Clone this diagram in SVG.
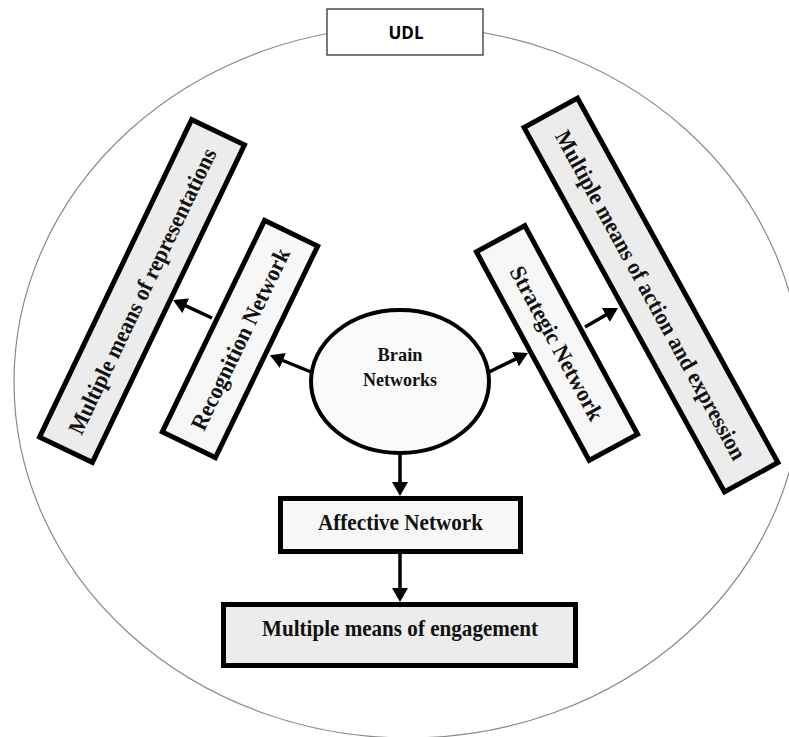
<svg xmlns="http://www.w3.org/2000/svg" width="789" height="737" viewBox="0 0 789 737">
  <defs>
    <marker id="arrow" markerUnits="userSpaceOnUse" markerWidth="14" markerHeight="16" refX="4" refY="8" orient="auto">
      <path d="M0,0 L14,8 L0,16 z" fill="#000"/>
    </marker>
    <style>
      .frame { fill: none; stroke: #8a8a8a; stroke-width: 1.2; }
      .title-box { fill: #fff; stroke: #333; stroke-width: 1.3; }
      .title { font-family: "Open Sans", "Liberation Sans", sans-serif; font-weight: bold; font-size: 17px; fill: #000; text-anchor: middle; }
      .box { stroke: #000; stroke-width: 5; stroke-linejoin: miter; }
      .light { fill: #f7f7f7; }
      .mid { fill: #ececec; }
      .lbl { font-family: "Liberation Serif", "Times New Roman", serif; font-weight: bold; font-size: 23px; fill: #111; text-anchor: middle; }
      .lbl-h { font-family: "Liberation Serif", "Times New Roman", serif; font-weight: bold; font-size: 22.5px; fill: #111; text-anchor: middle; }
      .lbl-c { font-family: "Liberation Serif", "Times New Roman", serif; font-weight: bold; font-size: 19.5px; fill: #111; text-anchor: middle; }
      .conn { stroke: #000; stroke-width: 3.5; fill: none; marker-end: url(#arrow); }
    </style>
  </defs>

  <rect width="789" height="737" fill="#fff"/>

  <!-- outer UDL boundary -->
  <ellipse class="frame" cx="408" cy="382" rx="394" ry="356"/>

  <g id="udl">
    <rect class="title-box" x="327" y="9" width="156" height="46"/>
    <text class="title" x="406" y="39">UDL</text>
  </g>

  <g id="representations" transform="translate(142,291) rotate(-64.4)">
    <rect class="box mid" x="-176" y="-29.3" width="352" height="58.6"/>
    <text class="lbl" x="0" y="8" textLength="314" lengthAdjust="spacingAndGlyphs">Multiple means of representations</text>
  </g>

  <g id="recognition" transform="translate(240,339) rotate(-64.2)">
    <rect class="box light" x="-117.5" y="-29.5" width="235" height="59"/>
    <text class="lbl" x="0" y="8" textLength="199" lengthAdjust="spacingAndGlyphs">Recognition Network</text>
  </g>

  <g id="strategic" transform="translate(557,343) rotate(61.6)">
    <rect class="box light" x="-118.5" y="-27.5" width="237" height="55"/>
    <text class="lbl" x="0" y="8" textLength="172" lengthAdjust="spacingAndGlyphs">Strategic Network</text>
  </g>

  <g id="action-expression" transform="translate(651,295) rotate(61.2)">
    <rect class="box mid" x="-208" y="-30.5" width="416" height="61"/>
    <text class="lbl" x="0" y="8" textLength="372" lengthAdjust="spacingAndGlyphs">Multiple means of action and expression</text>
  </g>

  <g id="brain">
    <ellipse cx="400" cy="381.5" rx="89" ry="71.5" fill="#fafafa" stroke="#000" stroke-width="4"/>
    <text class="lbl-c" x="400" y="361" textLength="45" lengthAdjust="spacingAndGlyphs">Brain</text>
    <text class="lbl-c" x="400" y="386" textLength="74" lengthAdjust="spacingAndGlyphs">Networks</text>
  </g>

  <g id="affective">
    <rect class="box light" x="280.5" y="498.5" width="240" height="53"/>
    <text class="lbl-h" x="400.5" y="530" textLength="165" lengthAdjust="spacingAndGlyphs">Affective Network</text>
  </g>

  <g id="engagement">
    <rect class="box mid" x="223.5" y="604.5" width="352" height="61"/>
    <text class="lbl-h" x="400" y="636" textLength="276" lengthAdjust="spacingAndGlyphs">Multiple means of engagement</text>
  </g>

  <g id="connectors">
    <line class="conn" x1="311" y1="372" x2="279.2" y2="359"/>
    <line class="conn" x1="212" y1="318" x2="182.1" y2="304.2"/>
    <line class="conn" x1="489" y1="372" x2="519" y2="357.4"/>
    <line class="conn" x1="585" y1="327" x2="609.3" y2="313"/>
    <line class="conn" x1="400" y1="453" x2="400" y2="486"/>
    <line class="conn" x1="400" y1="554" x2="400" y2="592"/>
  </g>
</svg>
